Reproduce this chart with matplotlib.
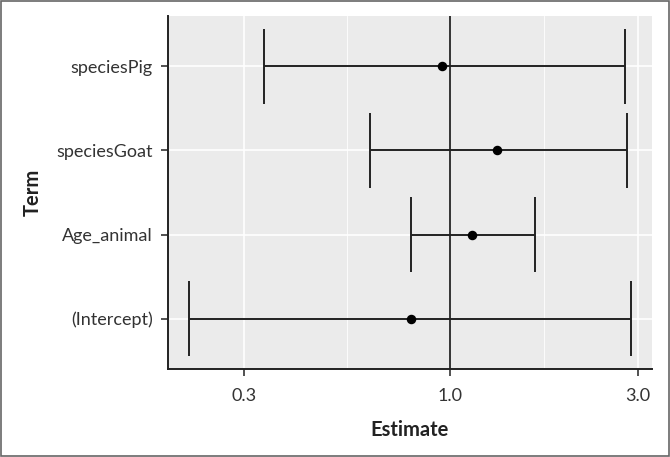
import numpy as np
import matplotlib
matplotlib.use("Agg")
import matplotlib.pyplot as plt
from matplotlib.patches import Rectangle
from matplotlib.ticker import FixedLocator, NullFormatter

terms = ["(Intercept)", "Age_animal", "speciesGoat", "speciesPig"]
estimate = [0.796, 1.139, 1.316, 0.956]
conf_low = [0.218, 0.796, 0.626, 0.338]
conf_high = [2.886, 1.647, 2.808, 2.786]
x_ticks = [0.3, 1.0, 3.0]
x_tick_labels = ["0.3", "1.0", "3.0"]

plt.rcParams["font.family"] = ["Lato", "DejaVu Sans"]

fig = plt.figure(figsize=(6.7, 4.57), dpi=100)
ax = fig.add_axes([168 / 670, 1 - 369 / 457, (652 - 168) / 670, (369 - 16) / 457])
ax.set_facecolor("#EBEBEB")

ax.set_xscale("log")
ax.set_xlim(0.1924, 3.256)
ax.set_ylim(0.4, 4.6)

# grid: major + ggplot-style minor lines midway on log scale
ax.xaxis.set_major_locator(FixedLocator(x_ticks))
ax.xaxis.set_minor_locator(FixedLocator([np.sqrt(0.3), np.sqrt(3.0)]))
ax.xaxis.set_minor_formatter(NullFormatter())
ax.set_xticklabels(x_tick_labels)
ypos = np.arange(1, len(terms) + 1)
ax.set_yticks(ypos)
ax.set_yticklabels(terms)
ax.grid(True, which="major", color="white", linewidth=1.2, zorder=0)
ax.grid(True, which="minor", axis="x", color="white", linewidth=0.6, zorder=0)
ax.set_axisbelow(True)

ax.axvline(1.0, color="#333333", linewidth=1.4, zorder=2)

for y, lo, hi in zip(ypos, conf_low, conf_high):
    ax.hlines(y, lo, hi, color="#222222", linewidth=1.4, zorder=3)
    ax.vlines([lo, hi], y - 0.45, y + 0.45, color="#222222", linewidth=1.4, zorder=3)
ax.scatter(estimate, ypos, s=34, color="black", zorder=4)

for side in ["top", "right"]:
    ax.spines[side].set_visible(False)
for side in ["left", "bottom"]:
    ax.spines[side].set_color("#222222")
    ax.spines[side].set_linewidth(1.4)

ax.tick_params(axis="both", which="major", length=5, width=1.2, color="#333333",
               labelsize=13, labelcolor="#333333")
ax.tick_params(axis="x", which="major", pad=9)
ax.tick_params(axis="y", which="major", pad=6)
ax.tick_params(axis="x", which="minor", length=0)
ax.set_xlabel("Estimate", fontsize=14.5, fontweight="bold", color="#222222", labelpad=11)
ax.set_ylabel("Term", fontsize=14.5, fontweight="bold", color="#222222", labelpad=10)

# outer frame around the figure
fig.add_artist(Rectangle((0.001, 0.002), 0.997, 0.996, transform=fig.transFigure,
                         fill=False, edgecolor="#666666", linewidth=1.2))

fig.savefig("out.png", dpi=100)
